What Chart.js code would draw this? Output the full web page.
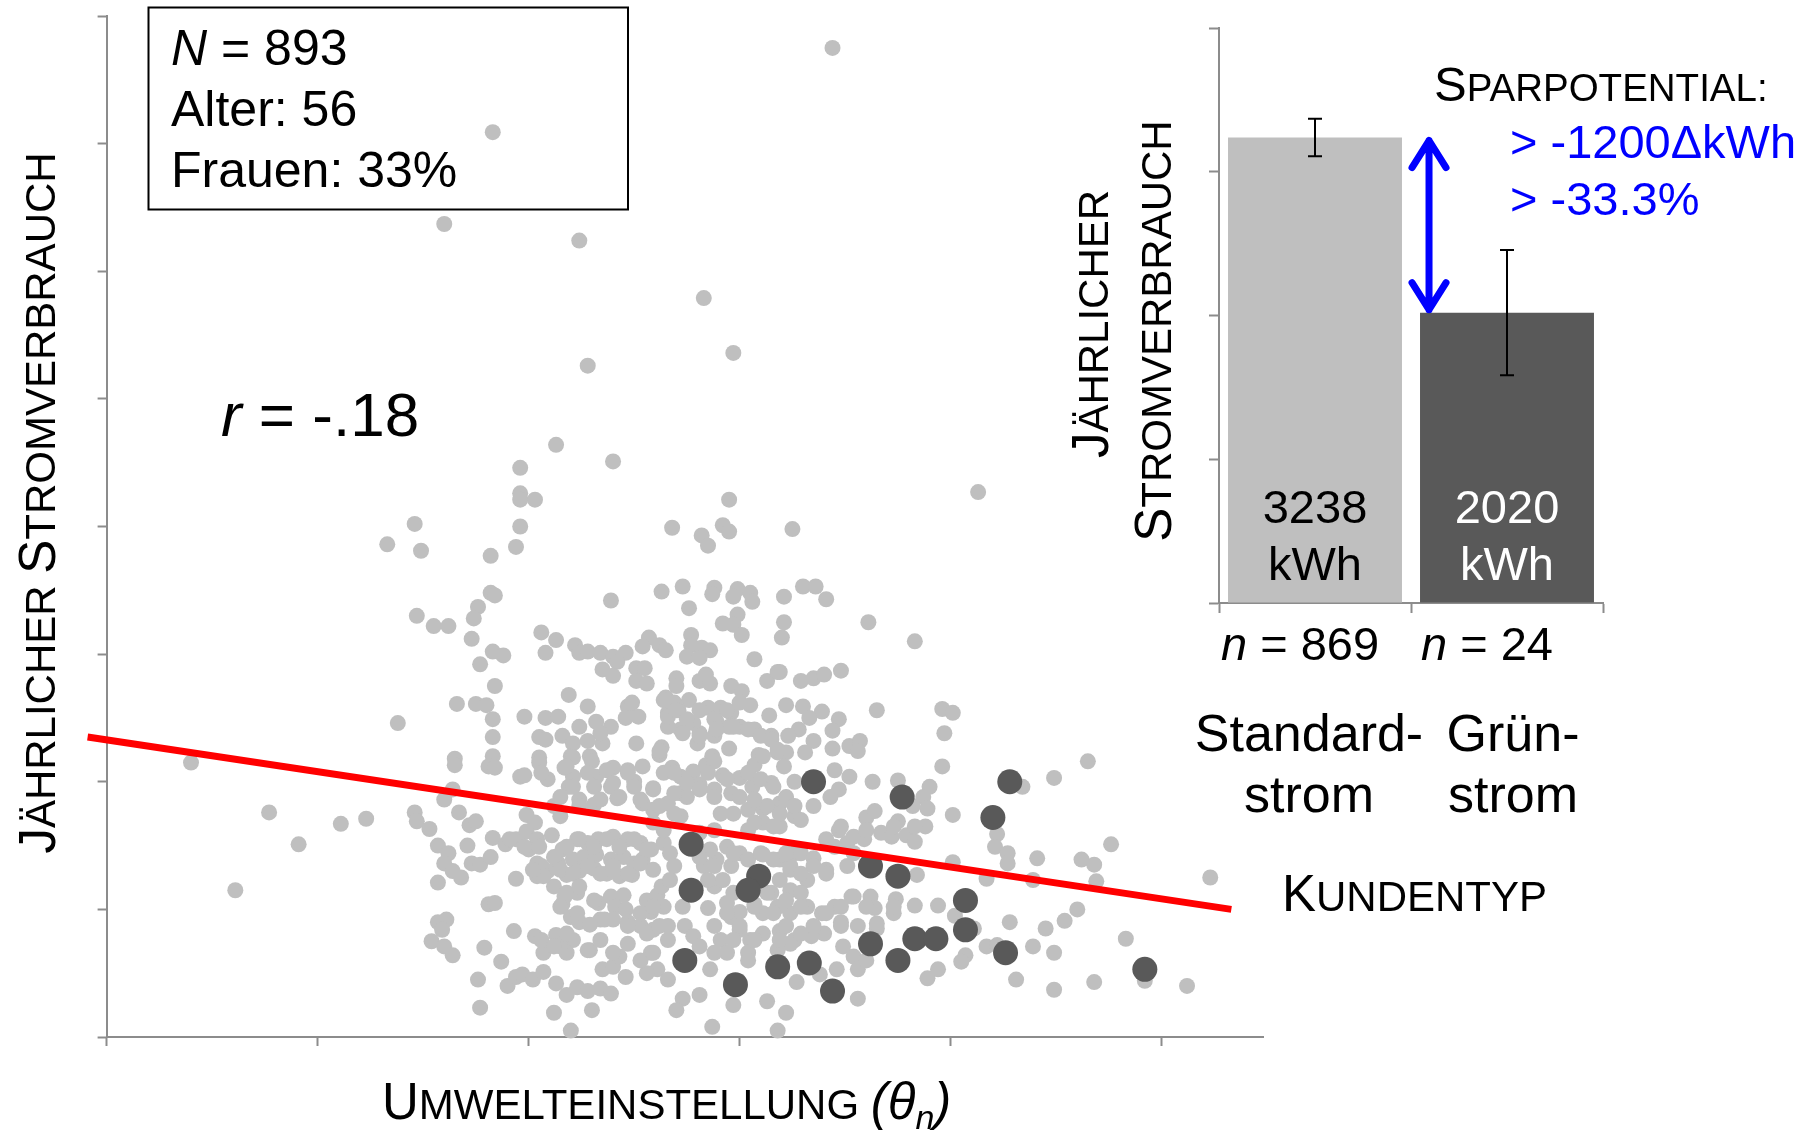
<!DOCTYPE html>
<html lang="de">
<head>
<meta charset="UTF-8">
<title>Jährlicher Stromverbrauch nach Umwelteinstellung und Kundentyp</title>
<script src="https://cdn.jsdelivr.net/npm/chart.js"></script>
<style>
  body { margin: 0; background: #fff; }
  #wrap { position: relative; width: 1817px; height: 1131px; }
  canvas { position: absolute; left: 0; top: 0; }
</style>
</head>
<body>
<div id="wrap">
  <canvas id="scatter" width="1817" height="1131"></canvas>
  <canvas id="bars" width="1817" height="1131"></canvas>
</div>
<script>
// --- data -------------------------------------------------------------
// Standardstrom customers: [Umwelteinstellung, jaehrlicher Verbrauch] (axis units)
const standardPoints = [
  [3.44,7.75],[1.83,7.09],[1.60,6.37],[2.24,6.24],[2.83,5.79],[2.97,5.36],[2.28,5.26],[2.13,4.64],[1.96,4.46],[2.40,4.51],[4.13,4.27],
  [3.25,3.98],[3.30,3.53],[3.36,3.53],[3.41,3.43],[3.21,3.45],[3.61,3.25],[3.83,3.10],[3.21,3.25],[3.20,3.13],[3.19,2.86],[3.29,2.79],[3.35,2.81],[3.40,2.84],[3.48,2.87],[3.65,2.56],[3.96,2.57],[4.01,2.54],[3.97,2.38],[3.22,2.60],[3.30,2.59],[3.39,2.55],[3.47,2.49],[3.44,2.40],[3.33,2.50],[3.28,2.41],[3.23,2.36],[3.35,2.32],[3.44,2.26],[3.52,2.28],[3.57,2.32],[3.56,2.24],[3.31,2.23],[3.22,2.23],[4.65,2.16],
  [1.96,4.26],[1.96,4.21],[2.03,4.21],[2.95,4.21],[1.46,4.02],[1.33,3.86],[1.49,3.81],[1.82,3.77],[1.96,4.00],[1.94,3.84],[2.68,3.99],[2.82,3.93],[2.85,3.85],[2.92,4.01],[2.95,3.96],[1.82,3.48],[1.84,3.46],[1.76,3.37],[1.74,3.28],[1.47,3.30],[1.55,3.22],[1.62,3.22],[1.73,3.12],[1.83,3.02],[1.88,2.99],[1.77,2.92],[1.84,2.75],[1.66,2.61],[1.75,2.61],[1.80,2.60],[1.83,2.49],[1.83,2.35],[1.83,2.20],[1.38,2.46],
  [2.39,3.42],[2.63,3.49],[2.73,3.53],[2.76,3.36],[2.88,3.52],[2.87,3.47],[2.99,3.51],[2.97,3.45],[3.05,3.48],[3.06,3.41],[2.99,3.31],[2.92,3.24],[2.97,3.23],[3.01,3.15],
  [2.06,3.17],[2.13,3.11],[2.08,3.01],[2.22,3.07],[2.24,3.01],[2.28,3.02],[2.34,3.01],[2.40,2.98],[2.46,3.01],[2.42,2.94],[2.57,3.13],[2.54,3.06],[2.62,3.07],[2.65,3.03],[2.77,3.15],[2.77,3.07],[2.75,2.98],[2.82,3.05],[2.86,3.03],[2.81,2.97],[3.07,2.96],
  [2.35,2.88],[2.40,2.83],[2.51,2.89],[2.55,2.89],[2.51,2.79],[2.56,2.77],[2.70,2.81],[2.70,2.75],[2.81,2.79],[2.84,2.84],[2.86,2.77],[2.96,2.75],[3.01,2.71],[3.13,2.79],[3.18,2.86],
  [2.19,2.68],[2.28,2.59],[2.24,2.43],[2.32,2.47],[2.39,2.43],[2.47,2.59],[2.49,2.62],[2.46,2.50],[2.52,2.51],[1.98,2.51],[2.08,2.50],[2.14,2.51],[2.05,2.35],[2.08,2.33],[2.16,2.36],[2.21,2.30],[2.28,2.32],[2.35,2.30],[2.34,2.38],[2.51,2.30],
  [2.65,2.66],[2.69,2.62],[2.76,2.64],[2.66,2.54],[2.71,2.56],[2.66,2.43],[2.72,2.41],[2.78,2.46],[2.85,2.58],[2.91,2.58],[2.96,2.54],[2.89,2.47],[2.81,2.38],[2.88,2.36],[2.80,2.30],[2.95,2.43],[3.00,2.43],[3.07,2.41],[3.15,2.36],[3.05,2.60],[3.14,2.52],
  [2.95,2.26],[2.63,2.27],[2.62,2.21],[3.09,2.21],[2.87,2.20],[2.20,2.20],[2.29,2.20],[2.05,2.19],[1.65,2.18],
  [1.81,2.12],[1.84,2.11],[1.65,2.13],[1.96,2.04],[0.40,2.15],[0.77,1.76],[1.11,1.67],[1.23,1.71],[0.91,1.51],[0.61,1.15],
  [1.64,1.94],[1.60,1.86],[1.46,1.76],[1.47,1.69],[1.53,1.63],[1.67,1.76],[1.72,1.66],[1.75,1.69],[1.57,1.50],[1.62,1.44],[1.60,1.36],[1.64,1.30],[1.68,1.25],[1.57,1.21],[1.71,1.50],[1.73,1.36],[1.77,1.35],[1.82,1.41],[1.83,1.56],[1.89,1.51],[1.94,1.55],[1.94,1.24],
  [1.81,1.04],[1.84,1.05],[1.57,0.90],[1.61,0.92],[1.59,0.84],[1.54,0.75],[1.60,0.71],[1.64,0.64],[1.79,0.70],[1.87,0.59],[1.93,0.83],[1.76,0.45],[1.90,0.40],[1.94,0.47],[1.77,0.23],
  [1.98,2.05],[2.05,2.15],[2.09,2.02],[2.17,2.11],[2.21,2.19],[2.21,2.04],[2.30,2.16],[2.32,2.04],[2.40,2.11],[2.47,2.09],[2.54,2.12],[2.50,2.00],[2.39,1.96],[2.42,1.87],[2.62,2.24],[2.64,2.07],[2.68,2.11],[2.72,2.04],[2.78,2.08],[2.84,2.13],[2.88,2.16],[2.92,2.05],[3.00,2.03],[3.07,2.13],[3.11,2.20],[3.18,2.23],[3.21,2.12],[3.26,2.00],[3.15,1.99],[3.06,1.96],[2.96,1.91],[2.88,1.94],[2.81,1.98],[2.72,1.91],[2.66,1.83],[2.59,1.78],[2.54,1.83],[2.59,1.95],[2.19,1.96],[2.24,1.86],[2.31,1.82],[2.12,1.81],[2.15,1.73],[2.91,1.75],[2.97,1.75],[3.04,1.78],[3.11,1.79],[3.19,1.83],[3.26,1.73],[2.72,1.73],
  [1.99,1.74],[2.03,1.68],[1.99,1.61],[2.04,1.55],[2.11,1.58],[2.00,1.47],[2.05,1.49],[2.16,1.47],[2.23,1.55],[2.28,1.52],[2.33,1.55],[2.40,1.57],[2.47,1.55],[2.53,1.52],[2.58,1.47],[2.64,1.52],[2.67,1.44],
  [2.04,1.36],[2.09,1.30],[2.04,1.26],[2.14,1.36],[2.21,1.39],[2.26,1.41],[2.32,1.43],[2.39,1.39],[2.45,1.41],[2.50,1.36],[2.54,1.39],[2.18,1.27],[2.24,1.30],[2.31,1.32],[2.37,1.28],[2.43,1.26],[2.49,1.27],
  [2.12,1.18],[2.17,1.10],[2.23,1.13],[2.16,1.04],[2.20,0.94],[2.24,0.90],[2.29,0.88],[2.33,1.05],[2.39,1.10],[2.45,1.11],[2.41,1.02],[2.46,1.00],[2.34,0.92],[2.40,0.92],[2.47,0.90],[2.56,1.07],[2.61,1.11],[2.58,0.98],[2.64,1.02],[2.63,1.18],[2.67,1.23],[2.69,1.34],[2.73,1.02],[2.85,1.01],
  [2.53,0.87],[2.59,0.84],[2.66,0.87],[2.74,0.87],[2.78,0.79],[2.88,0.87],[2.91,0.76],[2.94,0.66],[2.88,0.66],[2.81,0.71],[2.96,0.94],[2.94,1.05],[3.00,0.98],[3.07,1.04],[3.11,0.97],[3.18,1.02],[3.24,0.97],[3.00,0.84],[3.05,0.76],[3.11,0.81],[3.19,0.83],[3.26,0.76],[3.18,0.68],[3.04,0.66],
  [2.88,1.18],[2.92,1.23],[2.96,1.34],[2.89,1.39],[2.83,1.34],[2.86,1.47],[2.94,1.49],[3.00,1.44],[3.11,1.43],[3.19,1.39],[3.26,1.44],[3.19,1.23],[3.24,1.15],[3.15,1.13],[2.81,1.60],[2.88,1.62],[3.04,1.62],[3.11,1.68],[3.19,1.65],[2.64,1.62],[2.59,1.68],
  [2.03,0.79],[2.07,0.66],[2.13,0.80],[2.21,0.76],[2.18,0.66],[2.15,0.71],[1.97,0.49],[2.02,0.45],[2.07,0.51],[2.13,0.42],[2.18,0.33],[2.23,0.39],[2.28,0.36],[2.34,0.38],[2.39,0.34],[2.35,0.53],[2.40,0.55],[2.46,0.47],[2.43,0.63],[2.29,0.68],[2.58,0.66],[2.61,0.53],[2.66,0.45],[2.56,0.50],[2.86,0.53],[2.81,0.33],[2.73,0.30],[2.70,0.21],[2.97,0.25],[3.13,0.28],[3.22,0.19],[3.18,0.05],[2.87,0.08],[2.30,0.21],[2.12,0.19],[2.20,0.05],
  [3.45,2.09],[3.52,2.04],[3.47,1.94],[3.63,2.00],[3.75,2.01],[3.90,1.96],[3.87,1.88],[3.89,1.79],[3.82,1.81],[3.96,2.12],[4.01,1.74],[4.34,1.96],[4.49,2.03],[3.60,1.72],[3.64,1.77],[3.75,1.69],[3.88,1.65],[3.47,1.62],[3.41,1.55],[3.51,1.52],[3.59,1.55],[3.67,1.60],[3.72,1.57],[3.79,1.58],[3.83,1.53],[4.22,1.59],[4.21,1.49],[4.27,1.44],[4.27,1.36],[4.41,1.40],[4.62,1.39],[4.68,1.35],[4.76,1.51],[4.69,1.22],[4.39,1.23],[4.17,1.24],[4.01,1.37],[3.84,1.27],
  [3.29,1.44],[3.35,1.40],[3.41,1.31],[3.32,1.23],[3.24,1.31],[3.51,1.34],[3.29,1.13],[3.32,1.02],[3.39,0.97],[3.45,1.02],[3.53,1.10],[3.62,1.10],[3.64,1.01],[3.56,0.87],[3.48,0.90],[3.40,0.81],[3.34,0.79],[3.24,0.73],[3.65,0.85],[3.74,1.08],[3.73,0.97],[3.83,1.03],[3.94,1.03],[4.02,0.95],[4.11,0.85],[4.28,0.90],[4.45,0.85],[4.54,0.91],[4.60,1.00],[4.83,0.77],[4.17,0.71],[4.22,0.72],[4.39,0.71],[4.49,0.66],[4.07,0.64],[4.05,0.59],[3.49,0.71],[3.54,0.63],[3.46,0.53],[3.56,0.53],[3.60,0.60],[3.38,0.49],[3.27,0.43],[3.94,0.53],[3.89,0.46],[4.31,0.45],[4.49,0.37],[4.68,0.43],[4.92,0.44],[5.12,0.40],[3.56,0.30],[5.23,1.25],
  // overlapping points of the dense core
  [2.64,2.64],[2.66,2.51],[2.70,2.56],[2.75,2.49],[2.81,2.56],[2.88,2.49],[2.94,2.56],[2.73,2.38],[2.81,2.36],[2.89,2.41],[2.97,2.43],[3.04,2.41],[3.10,2.36],[3.15,2.33],[3.18,2.25],[3.00,2.62],
  [2.06,1.34],[2.12,1.41],[2.18,1.49],[2.24,1.55],[2.31,1.49],[2.37,1.55],[2.43,1.49],[2.50,1.55],[2.56,1.47],[2.07,1.26],[2.15,1.31],[2.21,1.28],[2.28,1.34],[2.34,1.28],[2.40,1.34],[2.47,1.28],[2.53,1.36],[2.59,1.31],
  [2.18,1.13],[2.24,1.18],[2.15,1.02],[2.23,0.97],[2.31,1.07],[2.36,0.92],[2.47,0.87],[2.53,0.97],[2.59,1.02],[2.56,0.81],[2.62,0.87],[2.34,0.76],[2.28,0.68],[2.40,0.66],[2.47,0.73],[2.53,0.60],[2.59,0.66],[2.66,0.76],[2.06,0.76],[2.12,0.71],[2.18,0.81],
  [2.97,1.13],[2.94,0.97],[3.00,0.87],[3.07,1.02],[3.13,1.13],[3.24,1.34],[3.29,1.28],[3.35,1.34],[3.41,1.28],[3.16,0.97],[3.22,0.87],[3.29,0.81],[3.35,0.87],[3.41,0.97],[3.07,0.76],[3.19,0.76],[2.97,0.76],[3.04,0.60],[3.22,1.07],[3.29,1.02],
  [2.97,1.44],[3.04,1.39],[3.10,1.44],[3.16,1.39],[3.22,1.44],[2.88,1.34],[2.81,1.41],[2.85,1.23],
  [2.06,2.07],[2.18,2.12],[2.28,2.07],[2.37,2.09],[2.47,2.07],[2.21,1.96],[2.31,1.96],[2.40,1.99],[2.50,1.96],[2.34,1.86],[2.43,1.88],[2.53,1.86],[2.59,1.94],[2.24,1.81],[2.15,1.88],
  [2.69,2.07],[2.75,1.99],[2.85,2.07],[2.94,2.02],[3.04,2.07],[3.10,2.02],[3.16,1.96],[3.22,1.88],[3.26,1.81],[3.19,1.75],[3.13,1.81],[3.07,1.86],[3.00,1.88],[2.88,1.88],[2.81,1.94],[2.75,1.88],[2.69,1.91],[2.62,1.81],[2.69,1.75],[3.07,1.68],[3.16,1.65],[3.29,1.70],[3.35,1.81],[3.43,1.88],
  [1.91,1.55],[1.98,1.49],[2.02,1.31],
  [3.48,1.65],[3.54,1.57],[3.60,1.62],[3.73,1.65],[3.83,1.65],[3.45,1.49],[3.54,1.44],[3.48,1.02],[3.54,1.10],[3.60,1.02],[3.48,0.87],[3.65,0.89],[3.73,1.02]
];

// Gruenstrom customers
const greenPoints = [
  [2.77,1.51],[2.77,1.15],[3.09,1.26],[3.04,1.15],[2.74,0.60],[2.98,0.41],[3.18,0.55],
  [3.35,2.00],[3.77,1.88],[4.28,2.00],[4.20,1.72],[3.62,1.34],[3.75,1.26],[4.07,1.07],
  [4.07,0.84],[3.62,0.73],[3.83,0.77],[3.93,0.77],[3.75,0.60],[4.26,0.66],[3.33,0.58],
  [3.44,0.36],[4.92,0.53]
];

// regression line (r = -.18), two end points
const trendLine = [[-0.09, 2.35], [5.33, 1.00]];

const xTicks = { min: 0, max: 5.48, step: 1 };
const yTicks = { min: 0, max: 8, step: 1 };

// bar chart: mean annual consumption per customer type
const barCategories = ['Standardstrom', 'Grünstrom'];
const barValues = [3238, 2020];
const barErrors = [130, 435];
const barCounts = [869, 24];
const barTicks = { min: 0, max: 4000, step: 1000 };

// --- helpers ----------------------------------------------------------
const FONT = '"Liberation Sans", Arial, Helvetica, sans-serif';
const AXIS = '#8c8c8c';

function setFont(ctx, r) {
  ctx.font = (r.italic ? 'italic ' : '') + r.size + 'px ' + FONT;
}

function runsWidth(ctx, runs) {
  let w = 0;
  runs.forEach(r => { setFont(ctx, r); w += ctx.measureText(r.t).width; });
  return w;
}

function drawRuns(ctx, runs, x, y, align, color) {
  let cx = align === 'center' ? x - runsWidth(ctx, runs) / 2 : x;
  ctx.textAlign = 'left';
  ctx.textBaseline = 'alphabetic';
  runs.forEach(r => {
    setFont(ctx, r);
    ctx.fillStyle = r.color || color || '#000';
    ctx.fillText(r.t, cx, y + (r.dy || 0));
    cx += ctx.measureText(r.t).width;
  });
}

// PowerPoint-like small caps: first letter of each word large, the rest small
function caps(text, big, small) {
  const runs = [];
  text.split(' ').forEach((w, i) => {
    if (i > 0) runs.push({ t: ' ', size: small });
    runs.push({ t: w[0].toUpperCase(), size: big });
    if (w.length > 1) runs.push({ t: w.slice(1).toUpperCase(), size: small });
  });
  return runs;
}

function rotatedRuns(ctx, runs, x, y) {
  ctx.save();
  ctx.translate(x, y);
  ctx.rotate(-Math.PI / 2);
  drawRuns(ctx, runs, 0, 0, 'center');
  ctx.restore();
}

function axisScale(t, tickLen) {
  return {
    type: 'linear',
    min: t.min,
    max: t.max,
    ticks: { display: false, stepSize: t.step, includeBounds: false },
    grid: { drawOnChartArea: false, drawTicks: true, tickLength: tickLen, tickWidth: 2, tickColor: AXIS },
    border: { display: true, color: AXIS, width: 2 }
  };
}

// --- scatter chart ----------------------------------------------------
const scatterText = {
  id: 'scatterText',
  afterDraw(chart) {
    const ctx = chart.ctx;
    ctx.save();
    // info box
    ctx.strokeStyle = '#000';
    ctx.lineWidth = 2;
    ctx.strokeRect(148.5, 7.5, 479.5, 202);
    drawRuns(ctx, [{ t: 'N', size: 50, italic: true }, { t: ' = 893', size: 50 }], 171, 65);
    drawRuns(ctx, [{ t: 'Alter: 56', size: 50 }], 171, 126);
    drawRuns(ctx, [{ t: 'Frauen: 33%', size: 50 }], 171, 187);
    // correlation
    drawRuns(ctx, [{ t: 'r', size: 62, italic: true }, { t: ' = -.18', size: 62 }], 221, 436);
    // axis titles
    rotatedRuns(ctx, caps('jährlicher stromverbrauch', 51, 42), 55, 503);
    const xt = caps('umwelteinstellung', 51, 42).concat([
      { t: ' ', size: 42 },
      { t: '(θ', size: 51, italic: true },
      { t: 'n', size: 34, italic: true, dy: 10 },
      { t: ')', size: 51, italic: true }
    ]);
    drawRuns(ctx, xt, 382, 1119);
    ctx.restore();
  }
};

new Chart(document.getElementById('scatter'), {
  type: 'scatter',
  data: {
    datasets: [
      {
        label: 'Regression',
        data: trendLine.map(p => ({ x: p[0], y: p[1] })),
        showLine: true,
        borderColor: '#ff0000',
        borderWidth: 7,
        pointRadius: 0,
        clip: false,
        order: 0
      },
      {
        label: 'Grünstrom',
        data: greenPoints.map(p => ({ x: p[0], y: p[1] })),
        backgroundColor: '#595959',
        borderWidth: 0,
        pointRadius: 12.5,
        clip: false,
        order: 1
      },
      {
        label: 'Standardstrom',
        data: standardPoints.map(p => ({ x: p[0], y: p[1] })),
        backgroundColor: '#bfbfbf',
        borderWidth: 0,
        pointRadius: 8,
        clip: false,
        order: 2
      }
    ]
  },
  options: {
    responsive: false,
    animation: false,
    events: [],
    layout: { padding: { left: 97.6, top: 16, right: 554, bottom: 85 } },
    plugins: { legend: { display: false }, tooltip: { enabled: false } },
    scales: {
      x: axisScale(xTicks, 9),
      y: axisScale(yTicks, 9)
    }
  },
  plugins: [scatterText]
});

// --- bar chart --------------------------------------------------------
const errorBars = {
  id: 'errorBars',
  afterDatasetsDraw(chart) {
    const ctx = chart.ctx;
    const y = chart.scales.y;
    ctx.save();
    ctx.strokeStyle = '#000';
    ctx.lineWidth = 2;
    chart.getDatasetMeta(0).data.forEach((bar, i) => {
      const top = y.getPixelForValue(barValues[i] + barErrors[i]);
      const bot = y.getPixelForValue(barValues[i] - barErrors[i]);
      ctx.beginPath();
      ctx.moveTo(bar.x, top); ctx.lineTo(bar.x, bot);
      ctx.moveTo(bar.x - 7, top); ctx.lineTo(bar.x + 7, top);
      ctx.moveTo(bar.x - 7, bot); ctx.lineTo(bar.x + 7, bot);
      ctx.stroke();
    });
    ctx.restore();
  }
};

const barText = {
  id: 'barText',
  afterDraw(chart) {
    const ctx = chart.ctx;
    const y = chart.scales.y;
    const bars = chart.getDatasetMeta(0).data;
    ctx.save();
    // values inside bars
    const inkColors = ['#000', '#fff'];
    bars.forEach((bar, i) => {
      drawRuns(ctx, [{ t: String(barValues[i]), size: 47 }], bar.x, 523, 'center', inkColors[i]);
      drawRuns(ctx, [{ t: 'kWh', size: 47 }], bar.x, 580, 'center', inkColors[i]);
    });
    // group sizes and category names
    const nShift = [-15, -20];
    const labelShift = [-6, 6];
    bars.forEach((bar, i) => {
      drawRuns(ctx, [{ t: 'n', size: 47, italic: true }, { t: ' = ' + barCounts[i], size: 47 }],
        bar.x + nShift[i], 660, 'center');
      const parts = barCategories[i].replace('strom', '-|strom').split('|');
      drawRuns(ctx, [{ t: parts[0], size: 52 }], bar.x + labelShift[i], 751, 'center');
      drawRuns(ctx, [{ t: parts[1], size: 52 }], bar.x + labelShift[i], 812, 'center');
    });
    drawRuns(ctx, caps('kundentyp', 51, 42), 1282, 911);
    // y title (two lines)
    rotatedRuns(ctx, caps('jährlicher', 51, 42), 1108, 324);
    rotatedRuns(ctx, caps('stromverbrauch', 51, 42), 1171, 331);
    // savings annotation
    drawRuns(ctx, caps('sparpotential:', 49, 38.5), 1434, 101);
    drawRuns(ctx, [{ t: '> -1200\u0394kWh', size: 47 }], 1510, 158, 'left', '#0000ff');
    drawRuns(ctx, [{ t: '> -33.3%', size: 47 }], 1510, 215, 'left', '#0000ff');
    // double arrow between the two bar tops
    const ax = bars[1].x - bars[1].width / 2 + 9;
    const yTop = y.getPixelForValue(barValues[0]) + 3;
    const yBot = y.getPixelForValue(barValues[1]) - 3;
    ctx.strokeStyle = '#0000ff';
    ctx.lineWidth = 7;
    ctx.lineCap = 'round';
    ctx.lineJoin = 'round';
    ctx.beginPath();
    ctx.moveTo(ax, yTop); ctx.lineTo(ax, yBot);
    ctx.moveTo(ax - 17, yTop + 27); ctx.lineTo(ax, yTop); ctx.lineTo(ax + 17, yTop + 27);
    ctx.moveTo(ax - 17, yBot - 27); ctx.lineTo(ax, yBot); ctx.lineTo(ax + 17, yBot - 27);
    ctx.stroke();
    ctx.restore();
  }
};

const barY = axisScale(barTicks, 10);
new Chart(document.getElementById('bars'), {
  type: 'bar',
  data: {
    labels: barCategories,
    datasets: [{
      data: barValues,
      backgroundColor: ['#bfbfbf', '#595959'],
      borderWidth: 0,
      barPercentage: 0.906,
      categoryPercentage: 1
    }]
  },
  options: {
    responsive: false,
    animation: false,
    events: [],
    layout: { padding: { left: 1209, top: 28, right: 214, bottom: 518 } },
    plugins: { legend: { display: false }, tooltip: { enabled: false } },
    scales: {
      x: {
        ticks: { display: false },
        grid: { drawOnChartArea: false, drawTicks: true, tickLength: 10, tickWidth: 2, tickColor: AXIS },
        border: { display: true, color: AXIS, width: 2 }
      },
      y: barY
    }
  },
  plugins: [errorBars, barText]
});
</script>
</body>
</html>
